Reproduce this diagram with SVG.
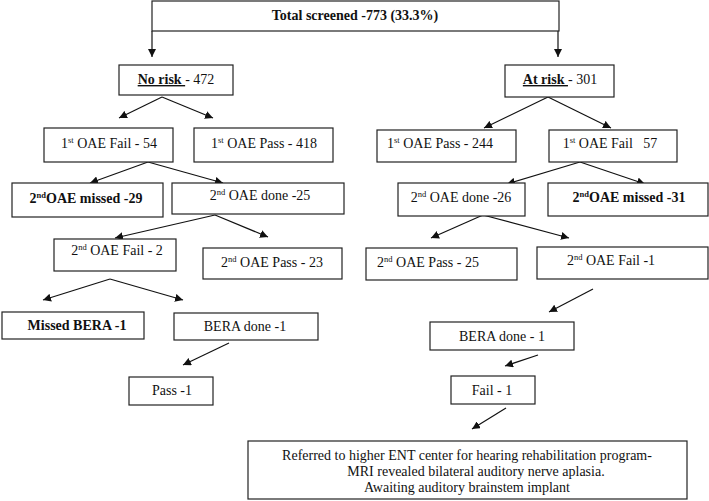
<svg xmlns="http://www.w3.org/2000/svg" width="709" height="501" viewBox="0 0 709 501">
<style>
.box{fill:#fff;stroke:#222;stroke-width:1.2}
.t{font-family:"Liberation Serif","Times New Roman",serif;font-size:14px;fill:#111;text-anchor:middle}
.b{font-weight:bold}
.sup{font-size:8.5px}
.c{stroke:#111;stroke-width:1.2;fill:none;marker-end:url(#ah)}
</style>
<defs>
<marker id="ah" viewBox="0 0 10 10" refX="10" refY="5" markerWidth="8" markerHeight="8" markerUnits="userSpaceOnUse" orient="auto">
<path d="M0,0 L10,5 L0,10 z" fill="#111"/>
</marker>
</defs>
<rect width="709" height="501" fill="#fff"/>
<g id="connectors">
<polyline class="c" points="152,31 152,57"/>
<polyline class="c" points="558,31 558,57"/>
<line class="c" x1="162" y1="97" x2="119" y2="118"/>
<line class="c" x1="162" y1="97" x2="213" y2="118"/>
<line class="c" x1="548" y1="97" x2="484" y2="128"/>
<line class="c" x1="548" y1="97" x2="611" y2="128"/>
<line class="c" x1="148" y1="162" x2="90" y2="183"/>
<line class="c" x1="148" y1="162" x2="223" y2="183"/>
<line class="c" x1="580" y1="162" x2="507" y2="184"/>
<line class="c" x1="580" y1="162" x2="645" y2="184"/>
<line class="c" x1="215" y1="215" x2="115" y2="238"/>
<line class="c" x1="215" y1="215" x2="268" y2="237"/>
<line class="c" x1="483" y1="215" x2="431" y2="238"/>
<line class="c" x1="483" y1="215" x2="569" y2="238"/>
<line class="c" x1="110" y1="279" x2="43" y2="300"/>
<line class="c" x1="110" y1="279" x2="183" y2="300"/>
<line class="c" x1="593" y1="289" x2="549" y2="312"/>
<line class="c" x1="229" y1="343" x2="183" y2="365"/>
<line class="c" x1="538" y1="355" x2="505" y2="366"/>
<line class="c" x1="506" y1="408" x2="472" y2="429"/>
</g>
<g id="total"><rect class="box" x="152" y="1" width="407" height="30"/><text class="t b" x="355" y="20">Total screened -773 (33.3%)</text></g>
<g id="norisk"><rect class="box" x="119" y="65" width="114" height="30"/><text class="t" x="176" y="84"><tspan class="b" text-decoration="underline">No risk </tspan>- 472</text></g>
<g id="atrisk"><rect class="box" x="505" y="65" width="109" height="32"/><text class="t" x="560" y="84"><tspan class="b" text-decoration="underline">At risk </tspan>- 301</text></g>
<g id="nr-oae1-fail"><rect class="box" x="44" y="128" width="129" height="34"/><text class="t" x="109" y="148">1<tspan class="sup" dy="-5">st</tspan><tspan dy="5"> OAE Fail - 54</tspan></text></g>
<g id="nr-oae1-pass"><rect class="box" x="194" y="128" width="139" height="34"/><text class="t" x="264" y="148">1<tspan class="sup" dy="-5">st</tspan><tspan dy="5"> OAE Pass - 418</tspan></text></g>
<g id="ar-oae1-pass"><rect class="box" x="377" y="130" width="139" height="32"/><text class="t" x="440" y="148">1<tspan class="sup" dy="-5">st</tspan><tspan dy="5"> OAE Pass - 244</tspan></text></g>
<g id="ar-oae1-fail"><rect class="box" x="549" y="130" width="128" height="32"/><text class="t" x="610" y="148" xml:space="preserve">1<tspan class="sup" dy="-5">st</tspan><tspan dy="5"> OAE Fail   57</tspan></text></g>
<g id="nr-oae2-missed"><rect class="box" x="12" y="183" width="151" height="34"/><text class="t b" x="86" y="203">2<tspan class="sup" dy="-5">nd</tspan><tspan dy="5">OAE missed -29</tspan></text></g>
<g id="nr-oae2-done"><rect class="box" x="172" y="183" width="172" height="31"/><text class="t" x="260" y="200">2<tspan class="sup" dy="-5">nd</tspan><tspan dy="5"> OAE done -25</tspan></text></g>
<g id="ar-oae2-done"><rect class="box" x="398" y="183" width="127" height="33"/><text class="t" x="461" y="202">2<tspan class="sup" dy="-5">nd</tspan><tspan dy="5"> OAE done -26</tspan></text></g>
<g id="ar-oae2-missed"><rect class="box" x="548" y="183" width="160" height="33"/><text class="t b" x="629" y="202">2<tspan class="sup" dy="-5">nd</tspan><tspan dy="5">OAE missed -31</tspan></text></g>
<g id="nr-oae2-fail"><rect class="box" x="54" y="239" width="122" height="32"/><text class="t" x="117" y="255">2<tspan class="sup" dy="-5">nd</tspan><tspan dy="5"> OAE Fail - 2</tspan></text></g>
<g id="nr-oae2-pass"><rect class="box" x="203" y="248" width="139" height="31"/><text class="t" x="272" y="267">2<tspan class="sup" dy="-5">nd</tspan><tspan dy="5"> OAE Pass - 23</tspan></text></g>
<g id="ar-oae2-pass"><rect class="box" x="366" y="248" width="151" height="32"/><text class="t" x="428" y="267">2<tspan class="sup" dy="-5">nd</tspan><tspan dy="5"> OAE Pass - 25</tspan></text></g>
<g id="ar-oae2-fail"><rect class="box" x="537" y="247" width="171" height="32"/><text class="t" x="611" y="265">2<tspan class="sup" dy="-5">nd</tspan><tspan dy="5"> OAE Fail -1</tspan></text></g>
<g id="nr-missed-bera"><rect class="box" x="2" y="312" width="142" height="27"/><text class="t b" x="77" y="330">Missed BERA -1</text></g>
<g id="nr-bera-done"><rect class="box" x="174" y="313" width="144" height="27"/><text class="t" x="245" y="331">BERA done -1</text></g>
<g id="ar-bera-done"><rect class="box" x="430" y="322" width="144" height="28"/><text class="t" x="502" y="341">BERA done - 1</text></g>
<g id="nr-pass"><rect class="box" x="129" y="377" width="84" height="28"/><text class="t" x="172" y="395">Pass -1</text></g>
<g id="ar-fail"><rect class="box" x="451" y="376" width="84" height="28"/><text class="t" x="492" y="395">Fail - 1</text></g>
<g id="referred"><rect class="box" x="248" y="441" width="439" height="58"/>
<text class="t" x="467" y="460">Referred to higher ENT center for hearing rehabilitation program-</text>
<text class="t" x="476" y="476">MRI revealed bilateral auditory nerve aplasia.</text>
<text class="t" x="467" y="492">Awaiting auditory brainstem implant</text></g>
</svg>
